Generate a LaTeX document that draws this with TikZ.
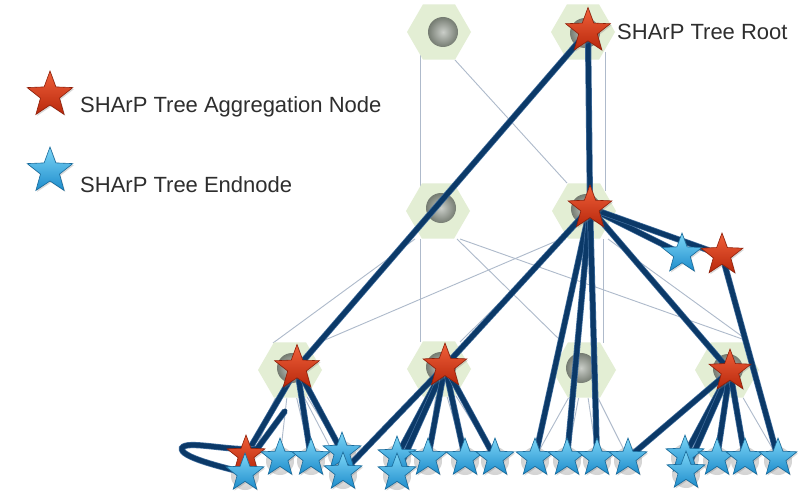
\documentclass[tikz,border=0pt]{standalone}
\usepackage{fontspec}
\setmainfont{Liberation Sans}
\usetikzlibrary{shapes.geometric,shadows,calc}
\pgfdeclarelayer{bg}\pgfdeclarelayer{mid}\pgfdeclarelayer{fg}
\pgfsetlayers{bg,mid,main,fg}
\definecolor{hexg}{HTML}{E3EED4}
\definecolor{thinc}{HTML}{AEBACB}
\definecolor{navy}{HTML}{0B3968}
\definecolor{navyl}{HTML}{3F6C9C}
\definecolor{txt}{HTML}{2E2E2E}
\definecolor{redT}{HTML}{F0603A}
\definecolor{redB}{HTML}{B8280C}
\definecolor{redD}{HTML}{8E1E08}
\definecolor{bluT}{HTML}{7DD6F7}
\definecolor{bluB}{HTML}{1E8CCB}
\definecolor{bluD}{HTML}{17699A}
\definecolor{ballc}{HTML}{8A9286}
\definecolor{hostc}{HTML}{A8A8A8}
\tikzset{
  sw/.style={regular polygon,regular polygon sides=6,minimum size=64pt,inner sep=0pt,fill=hexg},
  swball/.style={circle,inner sep=0pt,minimum size=#1,shading=radial,inner color=ballc!45!white,outer color=ballc!85!black},
  host/.style={circle,inner sep=0pt,minimum size=28pt,shading=radial,inner color=hostc!60!white,outer color=hostc,opacity=0.5},
  thinlink/.style={draw=thinc,line width=0.9pt},
  tree/.style={draw=navy,line width=4.8pt,line cap=round,line join=round,preaction={draw=navyl,line width=6.2pt}},
  starbase/.style={star,star points=5,star point ratio=2.4,inner sep=0pt,line width=0.6pt,drop shadow={opacity=0.3,shadow xshift=1.2pt,shadow yshift=-1.5pt}},
  redstar/.style={starbase,top color=redT,bottom color=redB,draw=redD,minimum size=#1},
  bluestar/.style={starbase,top color=bluT,bottom color=bluB,draw=bluD,minimum size=#1},
  lbl/.style={text=txt,font=\fontsize{22}{26}\selectfont,inner sep=0pt,anchor=base west}
}
\begin{document}
\begin{tikzpicture}[x=1pt,y=-1pt]
\useasboundingbox (0,0) rectangle (807,495);
\begin{pgfonlayer}{bg}
\fill[white] (0,0) rectangle (807,495);
\end{pgfonlayer}

% switches
\begin{pgfonlayer}{mid}
\node[sw] (T1) at (439,32) {};
\node[sw] (T2) at (583,32) {};
\node[sw] (M1) at (438,211) {};
\node[sw] (M2) at (584,211) {};
\node[sw] (B1) at (290,370) {};
\node[sw] (B2) at (439,369) {};
\node[sw] (B3) at (584,370) {};
\node[sw] (B4) at (727,370) {};
\node[swball=30pt] (T1b) at (443,32) {};
\node[swball=30pt] (T2b) at (585,33) {};
\node[swball=30pt] (M1b) at (441,208) {};
\node[swball=30pt] (M2b) at (586,209) {};
\node[swball=30pt] (B1b) at (292,368) {};
\node[swball=30pt] (B2b) at (441,367) {};
\node[swball=30pt] (B3b) at (581,368) {};
\node[swball=30pt] (B4b) at (728,369) {};
\foreach \n/\x/\y in {E1b/280/458,E1c/311/458,E1d/342/452,E1a/245/473,E1e/343/472,
  E2a/397/456,E2c/428/458,E2d/465/458,E2e/495/458,E2b/397/473,
  E3a/535/458,E3b/567/458,E3c/597/458,E3d/628/458,
  E4a/685/455,E4c/717/458,E4d/745/458,E4e/778/458,E4b/686/471}
  {\node[host] (h\n) at (\x,\y+3) {};}
\end{pgfonlayer}

% stars
\begin{pgfonlayer}{fg}
\node[redstar=47pt] (R) at (588,31) {};
\node[redstar=46pt] (Mr) at (590,208) {};
\node[bluestar=42pt] (Xb) at (682,254) {};
\node[redstar=44pt] (Xr) at (722,255) {};
\node[redstar=47pt] (B1r) at (297,368) {};
\node[redstar=46pt] (B2r) at (445,366) {};
\node[redstar=44pt] (B4r) at (730,371) {};
\node[redstar=40pt] (E1r) at (246,455) {};
\foreach \n/\x/\y in {E1b/280/458,E1c/311/458,E1d/342/452,E1a/245/473,E1e/343/472,
  E2a/397/456,E2c/428/458,E2d/465/458,E2e/495/458,E2b/397/473,
  E3a/535/458,E3b/567/458,E3c/597/458,E3d/628/458,
  E4a/685/455,E4c/717/458,E4d/745/458,E4e/778/458,E4b/686/471}
  {\node[bluestar=40pt] (\n) at (\x,\y) {};}
% legend
\node[redstar=48pt] (LA) at (50,95) {};
\node[bluestar=48pt] (LE) at (50,171) {};
\end{pgfonlayer}

\node[lbl] (LAt) at (80,113) {SHArP Tree Aggregation Node};
\node[lbl] (LEt) at (80,192) {SHArP Tree Endnode};
\node[lbl] (Rt) at (617,40) {SHArP Tree Root};

% thin physical links
\begin{pgfonlayer}{bg}
\draw[thinlink] ($(T1)+(-19,20)$) -- ($(M1)+(-18,-20)$);
\draw[thinlink] ($(T2)+(22,20)$) -- ($(M2)+(21,-20)$);
\draw[thinlink] ($(T1)+(16,28)$) -- ($(M2)+(-17,-28)$);
\draw[thinlink] ($(T2)+(-21,28)$) -- ($(M1)+(17,-26)$);
\draw[thinlink] ($(M1)+(-23,28)$) -- ($(B1)+(-17,-27)$);
\draw[thinlink] ($(M1)+(-18,28)$) -- ($(B2)+(-19,-27)$);
\draw[thinlink] ($(M1)+(19,28)$) -- ($(B3)+(-21,-27)$);
\draw[thinlink] ($(M1)+(22,28)$) -- ($(B4)+(18,-30)$);
\draw[thinlink] ($(M2)+(-23,28)$) -- ($(B1)+(28,-27)$);
\draw[thinlink] ($(M2)+(-20,28)$) -- ($(B2)+(21,-27)$);
\draw[thinlink] ($(M2)+(19,28)$) -- ($(B3)+(19,-27)$);
\draw[thinlink] ($(M2)+(24,28)$) -- ($(B4)+(20,-30)$);
\foreach \e in {E1r,E1a,E1b,E1c,E1d,E1e} \draw[thinlink] (B1) -- (\e);
\foreach \e in {E2a,E2b,E2c,E2d,E2e} \draw[thinlink] (B2) -- (\e);
\foreach \e in {E3a,E3b,E3c,E3d} \draw[thinlink] (B3) -- (\e);
\foreach \e in {E4a,E4b,E4c,E4d,E4e} \draw[thinlink] (B4) -- (\e);
\end{pgfonlayer}

% SHArP tree edges
\draw[tree] (R.center) -- (B1r.center);
\draw[tree] (R.center) -- (Mr.center);
\draw[tree] (Mr.center) -- (Xb.center);
\draw[tree] (Mr.center) -- (Xr.center);
\draw[tree] (Xr.center) -- (E4e.center);
\draw[tree] (Mr.center) -- (B2r.center);
\draw[tree] (Mr.center) -- (B4r.center);
\foreach \e in {E3a,E3b,E3c} \draw[tree] (Mr.center) -- (\e.center);
\foreach \e in {E3d,E4a,E4b,E4c,E4d} \draw[tree] (B4r.center) -- (\e.center);
\foreach \e in {E1r,E1c,E1d} \draw[tree] (B1r.center) -- (\e.center);
\foreach \e in {E1e,E2a,E2b,E2c,E2d,E2e} \draw[tree] (B2r.center) -- (\e.center);
\coordinate (tip) at (285,411);
\draw[tree] (tip) -- (257,449) .. controls (228,451) and (186,440) .. (182,448)
  .. controls (179,457) and (222,467) .. (E1a.center);
\end{tikzpicture}
\end{document}
